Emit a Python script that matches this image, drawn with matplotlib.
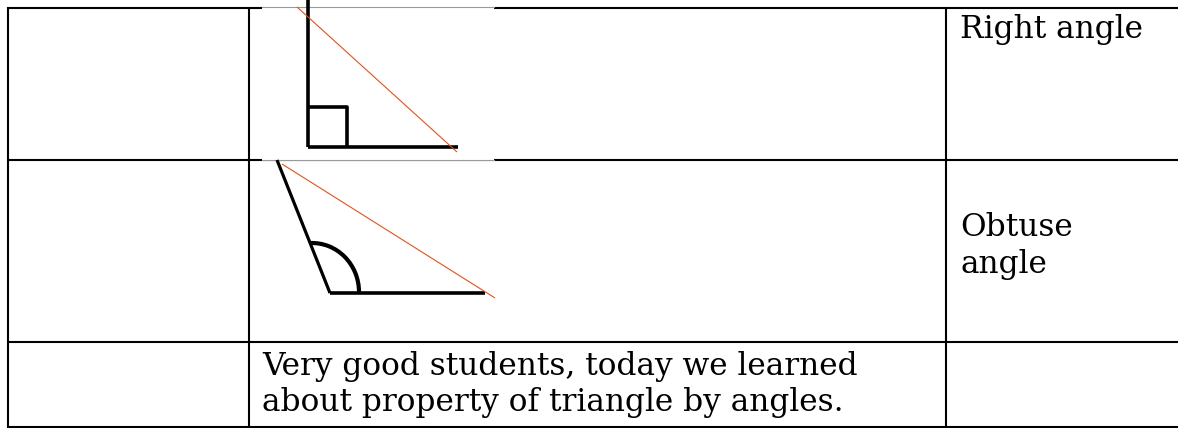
import matplotlib
matplotlib.use("Agg")
import matplotlib.pyplot as plt
from matplotlib.patches import Arc, Rectangle

W, H = 1178, 428

# table grid (pixel positions)
col_edges = [8, 249, 946]
row_edges = [8, 160, 342, 427]

# cell texts, one entry per line: (x, baseline y, text)
text_lines = [
    (960, 38, "Right angle"),
    (960, 236, "Obtuse"),
    (960, 273, "angle"),
    (262, 375, "Very good students, today we learned"),
    (262, 411, "about property of triangle by angles."),
]

# right-angle sketch
right_leg_v = [(308, 0), (308, 147)]
right_leg_h = [(308, 147), (458, 147)]
right_square = [(308, 107), (347, 107), (347, 147)]
right_red = [(297, 7), (457, 152)]

# obtuse sketch
obtuse_side = [(277, 160), (330, 293)]
obtuse_base = [(330, 293), (485, 293)]
obtuse_red = [(282, 164), (495, 298)]

black = "#000000"
red = "#e0521e"
grey = "#9a9a9a"

fig = plt.figure(figsize=(W / 100, H / 100), dpi=100)
ax = fig.add_axes([0, 0, 1, 1])
ax.set_xlim(0, W)
ax.set_ylim(H, 0)
ax.axis("off")

# grid lines
for y in row_edges:
    ax.plot([col_edges[0] - 1, W], [y, y], color=black, lw=1.5, solid_capstyle="butt")
for x in col_edges:
    ax.plot([x, x], [row_edges[0] - 1, row_edges[-1] + 1], color=black, lw=1.5, solid_capstyle="butt")

# pasted pictures cover the table border
ax.add_patch(Rectangle((262, 6), 232, 155, facecolor="white", edgecolor="none", zorder=3))
ax.plot([262, 494], [7, 7], color=grey, lw=0.8, zorder=4)
ax.plot([262, 494], [160, 160], color=grey, lw=0.8, zorder=4)

def seg(pts, color=black, lw=2.6):
    xs, ys = zip(*pts)
    ax.plot(xs, ys, color=color, lw=lw, zorder=5, solid_capstyle="butt")

seg(right_leg_v)
seg(right_leg_h)
seg(right_square)
seg(right_red, red, 0.8)

seg(obtuse_side, lw=2.3)
seg(obtuse_base)
ax.add_patch(Arc((312, 292), 94, 98, theta1=-92, theta2=0, color=black, lw=3, zorder=5))
seg(obtuse_red, red, 0.8)

for x, y, s in text_lines:
    ax.text(x, y, s, va="baseline", family="DejaVu Serif", fontsize=22.5, color=black)

fig.savefig("out.png", dpi=100)
